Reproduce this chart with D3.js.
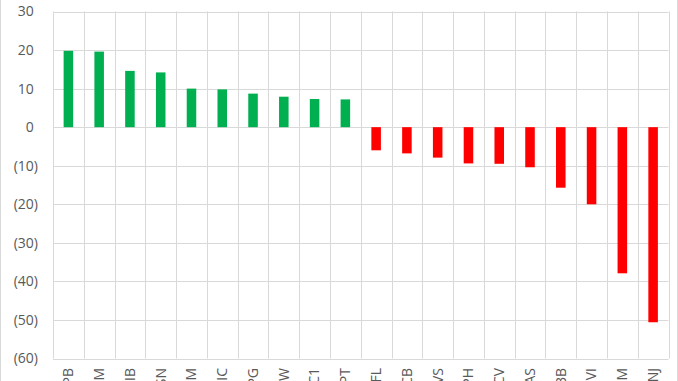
<!DOCTYPE html>
<html>
<head>
<meta charset="utf-8">
<script src="https://cdn.jsdelivr.net/npm/d3@7"></script>
<style>
  html, body { margin: 0; padding: 0; background: #fff; }
  svg { display: block; }
  text { font-family: "Open Sans", sans-serif; fill: #595959; }
</style>
</head>
<body>
<svg id="chart"></svg>
<script>
// data
const categories = ["PB", "M", "IB", "SN", "M", "IC", "PG", "W", "C1", "PT",
                    "FL", "CB", "VS", "PH", "CV", "AS", "BB", "VI", "M", "NJ"];
const values = [19.8, 19.6, 14.6, 14.2, 10.0, 9.8, 8.7, 7.9, 7.3, 7.2,
                -6.0, -6.8, -7.9, -9.4, -9.5, -10.4, -15.7, -20.0, -37.9, -50.6];
const yTicks = [30, 20, 10, 0, -10, -20, -30, -40, -50, -60];

const width = 678, height = 381;
const plot = { left: 53, right: 668.5, top: 11.5, bottom: 358.5 };

const svg = d3.select("#chart").attr("width", width).attr("height", height);

// chart border
svg.append("rect")
  .attr("x", 0.5).attr("y", -2)
  .attr("width", 677).attr("height", height + 4)
  .attr("fill", "none").attr("stroke", "#d9d9d9");

const idx = d3.range(categories.length);
const x = d3.scaleBand().domain(idx).range([plot.left, plot.right]).padding(0);
const y = d3.scaleLinear().domain([-60, 30]).range([plot.bottom, plot.top]);

//horizontal grid
svg.append("g")
  .selectAll("line")
  .data(yTicks)
  .join("line")
  .attr("x1", plot.left).attr("x2", plot.right)
  .attr("y1", d => Math.round(y(d)) + 0.5)
  .attr("y2", d => Math.round(y(d)) + 0.5)
  .attr("stroke", "#d9d9d9");

//vertical grid at category edges
const edges = idx.map(i => x(i)).concat([plot.right]);
svg.append("g")
  .selectAll("line")
  .data(edges)
  .join("line")
  .attr("x1", d => Math.round(d) + 0.5).attr("x2", d => Math.round(d) + 0.5)
  .attr("y1", plot.top).attr("y2", plot.bottom)
  .attr("stroke", "#d9d9d9");

//bars
const barW = x.bandwidth() * 0.31;
svg.append("g")
  .selectAll("rect")
  .data(values)
  .join("rect")
  .attr("x", (d, i) => x(i) + (x.bandwidth() - barW) / 2)
  .attr("y", d => y(Math.max(0, d)))
  .attr("width", barW)
  .attr("height", d => Math.abs(y(d) - y(0)))
  .attr("fill", d => d >= 0 ? "#00b050" : "#ff0000");

//y labels, accounting style (negatives in brackets)
const yLab = svg.append("g")
  .selectAll("text")
  .data(yTicks)
  .join("text")
  .attr("x", 38)
  .attr("y", d => y(d))
  .attr("dy", "0.35em")
  .attr("text-anchor", "end")
  .style("font-size", "14px");
yLab.append("tspan").text(d => d < 0 ? "(" + Math.abs(d) + ")" : d);
yLab.filter(d => d >= 0).append("tspan").attr("fill-opacity", 0).text(")");

//x labels, rotated
svg.append("g")
  .selectAll("text")
  .data(categories)
  .join("text")
  .attr("transform", (d, i) => `translate(${x(i) + x.bandwidth() / 2},368) rotate(-90)`)
  .attr("dy", "0.35em")
  .attr("text-anchor", "end")
  .style("font-size", "14px")
  .text(d => d);
</script>
</body>
</html>
